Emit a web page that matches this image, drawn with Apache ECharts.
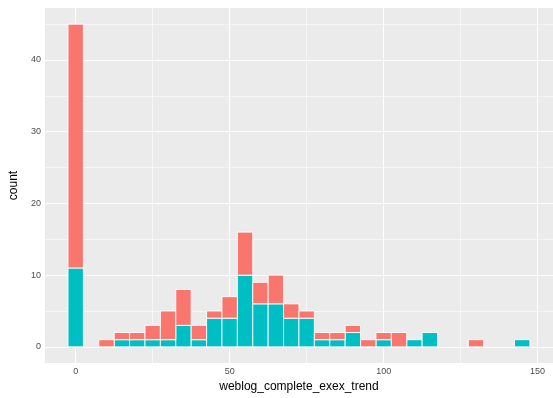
<!DOCTYPE html>
<html>
<head>
<meta charset="utf-8">
<script src="https://cdn.jsdelivr.net/npm/echarts@6/dist/echarts.min.js"></script>
<style>html,body{margin:0;padding:0;background:#fff;}#c{width:553px;height:398px;}</style>
</head>
<body>
<div id="c"></div>
<script>
// Bin centers (binwidth 5)
const binCenters = [0,5,10,15,20,25,30,35,40,45,50,55,60,65,70,75,80,85,90,95,100,105,110,115,120,125,130,135,140,145];
// Counts per group
const tealCounts = [11,0,0,1,1,1,1,3,1,4,4,10,6,6,4,4,1,1,2,0,1,0,1,2,0,0,0,0,0,1];
const redCounts  = [34,0,1,1,1,2,4,5,2,1,3,6,3,4,2,1,1,1,1,1,1,2,0,0,0,0,1,0,0,0];
const binWidth = 5;
const xTicks = [0,50,100,150];
const xMinor = [25,75,125];
const yTicks = [0,10,20,30,40];
const yMinor = [5,15,25,35,45];

const tealData = [], redData = [];
binCenters.forEach((x, i) => {
  if (tealCounts[i] > 0) tealData.push([x, 0, tealCounts[i]]);
  if (redCounts[i] > 0) redData.push([x, tealCounts[i], tealCounts[i] + redCounts[i]]);
});

function makeRender(color) {
  return function (params, api) {
    const x = api.value(0), y0 = api.value(1), y1 = api.value(2);
    const p0 = api.coord([x - binWidth / 2, y1]);
    const p1 = api.coord([x + binWidth / 2, y0]);
    return {
      type: 'rect',
      shape: { x: p0[0], y: p0[1], width: p1[0] - p0[0], height: p1[1] - p0[1] },
      style: { fill: color, stroke: '#ffffff', lineWidth: 0.9 }
    };
  };
}

const gridLines = [];
xTicks.forEach(v => gridLines.push({ xAxis: v, lineStyle: { width: 1.1 } }));
xMinor.forEach(v => gridLines.push({ xAxis: v, lineStyle: { width: 0.55 } }));
yTicks.forEach(v => gridLines.push({ yAxis: v, lineStyle: { width: 1.1 } }));
yMinor.forEach(v => gridLines.push({ yAxis: v, lineStyle: { width: 0.55 } }));

const chart = echarts.init(document.getElementById('c'), null, { renderer: 'canvas' });
const font = 'Liberation Sans, Arial, sans-serif';
chart.setOption({
  animation: false,
  backgroundColor: '#ffffff',
  grid: { left: 42, top: 8, right: -3, bottom: 35, show: true, backgroundColor: '#EBEBEB', borderWidth: 0, containLabel: false },
  xAxis: {
    type: 'value', min: -10, max: 155,
    name: 'weblog_complete_exex_trend', nameLocation: 'middle', nameGap: 17,
    nameTextStyle: { color: '#000', fontSize: 12, fontFamily: font },
    axisLine: { show: false },
    axisTick: { show: true, length: 3, lineStyle: { color: '#333', width: 1 }, customValues: xTicks },
    axisLabel: { color: '#4D4D4D', fontSize: 9, fontFamily: font, margin: 4, customValues: xTicks },
    splitLine: { show: false }
  },
  yAxis: {
    type: 'value', min: -2.25, max: 47.25,
    name: 'count', nameLocation: 'middle', nameGap: 22, nameRotate: 90,
    nameTextStyle: { color: '#000', fontSize: 12, fontFamily: font },
    axisLine: { show: false },
    axisTick: { show: true, length: 3, lineStyle: { color: '#333', width: 1 }, customValues: yTicks },
    axisLabel: { color: '#4D4D4D', fontSize: 9, fontFamily: font, margin: 4, customValues: yTicks },
    splitLine: { show: false }
  },
  series: [
    {
      type: 'line', data: [], silent: true, z: 1,
      markLine: {
        silent: true, symbol: ['none', 'none'], z: 1, animation: false,
        label: { show: false },
        lineStyle: { color: '#ffffff', type: 'solid' },
        emphasis: { disabled: true },
        data: gridLines
      }
    },
    { type: 'custom', renderItem: makeRender('#00BFC4'), data: tealData, z: 3, encode: { x: 0, y: [1, 2] } },
    { type: 'custom', renderItem: makeRender('#F8766D'), data: redData, z: 3, encode: { x: 0, y: [1, 2] } }
  ]
});
</script>
</body>
</html>
